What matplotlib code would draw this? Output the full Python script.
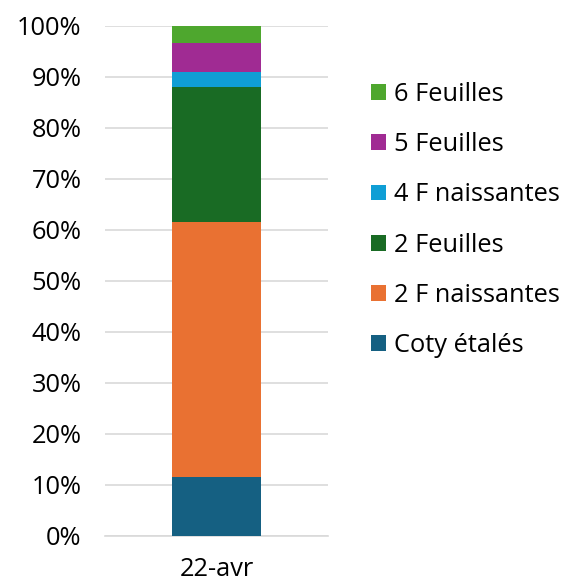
import numpy as np
import matplotlib.pyplot as plt

plt.rcParams['font.family'] = ['Open Sans', 'DejaVu Sans']

categories = ['22-avr']
stages = ['Coty étalés', '2 F naissantes', '2 Feuilles', '4 F naissantes', '5 Feuilles', '6 Feuilles']
values = [11.6, 50.0, 26.3, 3.0, 5.8, 3.3]
colors = ['#156082', '#E97132', '#196B24', '#0F9ED5', '#A02B93', '#4EA72E']

fig = plt.figure(figsize=(5.68, 5.85), dpi=100)
ax = fig.add_axes([0.185, 0.084, 0.392, 0.872])

bottom = 0
handles = []
for name, v, c in zip(stages, values, colors):
    b = ax.bar(0, v, width=0.4, bottom=bottom, color=c, label=name, zorder=3)
    handles.append(b)
    bottom += v

ax.set_xlim(-0.5, 0.5)
ax.set_ylim(0, 100)
ax.set_yticks(np.arange(0, 101, 10))
ax.set_yticklabels([f'{t}%' for t in range(0, 101, 10)])
ax.set_xticks([0])
ax.set_xticklabels(categories)
ax.tick_params(axis='both', length=0, labelsize=18.3, colors='black')
ax.tick_params(axis='y', pad=17)
ax.tick_params(axis='x', pad=15)
ax.yaxis.grid(True, color='#D9D9D9', linewidth=1.2, zorder=0)
for s in ['top', 'right', 'left']:
    ax.spines[s].set_visible(False)
ax.spines['bottom'].set_color('#D9D9D9')
ax.spines['bottom'].set_linewidth(1.2)

leg = fig.legend(handles[::-1], stages[::-1], loc='upper left',
                 bbox_to_anchor=(0.635, 0.877), frameon=False,
                 fontsize=18.3, handlelength=0.58, handleheight=0.58,
                 handletextpad=0.35, labelspacing=0.99, borderaxespad=0)

fig.savefig('out.png', dpi=100)
